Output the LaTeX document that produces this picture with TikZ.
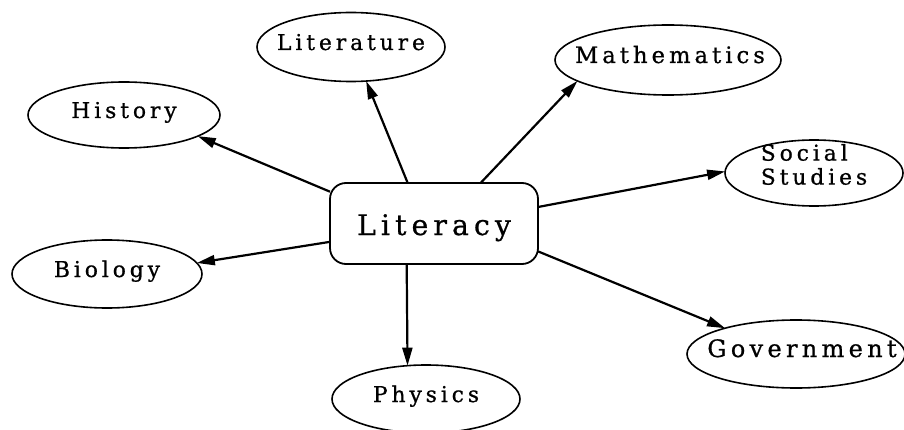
\documentclass[tikz,border=0pt]{standalone}
\usepackage{fontspec}
\setmainfont{DejaVu Serif}[LetterSpace=18,FakeBold=0.8]
\usetikzlibrary{arrows.meta,shapes.geometric}
\newcommand\lbl[1]{\makebox[0pt]{#1}}
\begin{document}
\begin{tikzpicture}[x=1pt,y=1pt,
  topic/.style={ellipse,draw,line width=1.6pt,inner sep=0pt,outer sep=0pt,
    text height=10pt,text depth=4pt,font=\fontsize{21.8}{24}\selectfont},
  hub/.style={rectangle,rounded corners=16pt,draw,line width=1.8pt,
    minimum width=208pt,minimum height=81pt,inner sep=0pt,outer sep=0pt,
    text height=27pt,text depth=4pt,font=\fontsize{28.3}{32}\selectfont},
  link/.style={line width=2.2pt,-{Triangle[length=18pt,width=10pt]}}]
\fill[white] (0,0) rectangle (904,429);
\useasboundingbox (0,0) rectangle (904,429);

\node[hub] (hubn) at (434,205.5) {\lbl{Literacy}};

\node[topic,minimum width=188pt,minimum height=69pt] (lit) at (351,382) {\lbl{Literature}};
\node[topic,minimum width=192pt,minimum height=66pt] (hist) at (124,314) {\lbl{History}};
\node[topic,minimum width=226pt,minimum height=70pt,font=\fontsize{22.6}{24}\selectfont] (math) at (668,369) {\lbl{\hspace{4pt}Mathematics}};
\node[topic,minimum width=178pt,minimum height=66pt,text height=0pt,text depth=0pt] (soc) at (814,256)
  {\lbl{\begin{tabular}{@{}l@{}}Social\\Studies\end{tabular}}};
\node[topic,minimum width=190pt,minimum height=68pt] (bio) at (107,155) {\lbl{Biology}};
\node[topic,minimum width=188pt,minimum height=68pt] (phys) at (426,30) {\lbl{Physics}};
\node[topic,minimum width=218pt,minimum height=68pt,font=\fontsize{24}{24}\selectfont] (gov) at (796,75) {\lbl{\hspace{12pt}Government}};

\draw[link] (hubn.163.7) -- (hist.-16);
\draw[link] (hubn.123.7) -- (lit.-66);
\draw[link] (hubn.41.4) -- (math.-167);
\draw[link] (hubn.9.1) -- (soc.179);
\draw[link] (hubn.-170.4) -- (bio.7.4);
\draw[link] (hubn.-124.7) -- (phys.119);
\draw[link] (hubn.-15.5) -- (gov.160.6);
\end{tikzpicture}
\end{document}
